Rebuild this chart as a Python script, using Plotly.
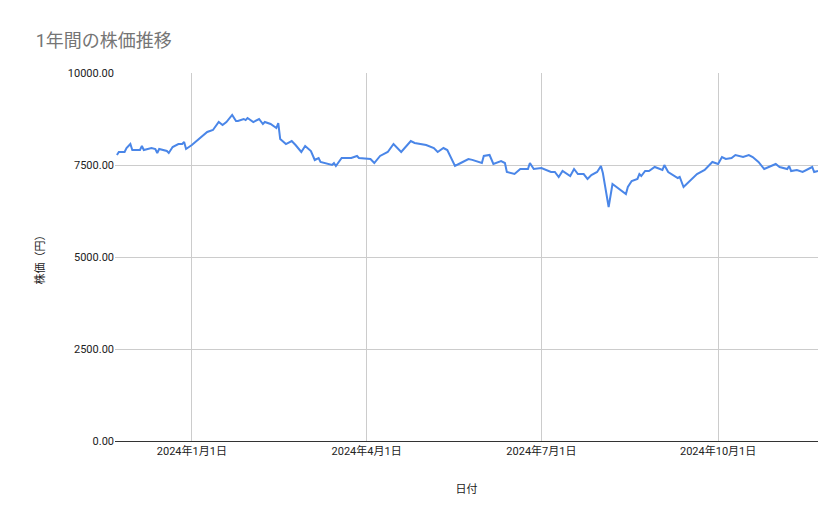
import plotly.graph_objects as go

dates = ["2023-11-23","2023-11-24","2023-11-27","2023-11-28","2023-11-30","2023-12-01","2023-12-05","2023-12-06","2023-12-07","2023-12-11","2023-12-13","2023-12-14","2023-12-15","2023-12-19","2023-12-20","2023-12-22","2023-12-25","2023-12-27","2023-12-28","2023-12-29",
"2024-01-01","2024-01-09","2024-01-12","2024-01-15","2024-01-17","2024-01-19","2024-01-22","2024-01-24","2024-01-25","2024-01-28","2024-01-29","2024-01-30","2024-02-02","2024-02-05","2024-02-07","2024-02-08","2024-02-11","2024-02-14","2024-02-15","2024-02-16","2024-02-19","2024-02-22","2024-02-24","2024-02-27","2024-02-29",
"2024-03-03","2024-03-05","2024-03-07","2024-03-08","2024-03-14","2024-03-15","2024-03-16","2024-03-19","2024-03-24","2024-03-27","2024-03-28","2024-04-03","2024-04-05","2024-04-08","2024-04-12","2024-04-15","2024-04-17","2024-04-19","2024-04-24","2024-04-26",
"2024-05-02","2024-05-06","2024-05-08","2024-05-11","2024-05-13","2024-05-17","2024-05-20","2024-05-24","2024-05-26","2024-05-29","2024-05-31","2024-06-01","2024-06-04","2024-06-06","2024-06-10","2024-06-12","2024-06-13","2024-06-17","2024-06-20","2024-06-24","2024-06-25","2024-06-27",
"2024-07-01","2024-07-06","2024-07-08","2024-07-10","2024-07-12","2024-07-16","2024-07-18","2024-07-20","2024-07-23","2024-07-25","2024-07-27","2024-07-30","2024-08-01","2024-08-02","2024-08-05","2024-08-07","2024-08-14","2024-08-15","2024-08-17","2024-08-20","2024-08-21","2024-08-22","2024-08-24","2024-08-26","2024-08-29",
"2024-09-02","2024-09-03","2024-09-05","2024-09-10","2024-09-11","2024-09-12","2024-09-13","2024-09-20","2024-09-24","2024-09-28","2024-10-01","2024-10-03","2024-10-05","2024-10-08","2024-10-10","2024-10-14","2024-10-17","2024-10-19","2024-10-22","2024-10-25","2024-10-31",
"2024-11-02","2024-11-06","2024-11-07","2024-11-08","2024-11-11","2024-11-14","2024-11-19","2024-11-20","2024-11-22"]
prices = [7772,7853,7853,7960,8070,7908,7908,8016,7908,7962,7935,7826,7935,7880,7826,7989,8070,8070,8125,7935,
8043,8397,8451,8668,8587,8668,8859,8695,8695,8750,8720,8777,8668,8750,8614,8668,8614,8505,8641,8207,8070,8152,8043,7853,8016,
7880,7636,7690,7582,7500,7554,7473,7690,7690,7745,7690,7663,7554,7745,7853,8070,7962,7853,8152,8100,
8043,7962,7853,7962,7908,7473,7554,7663,7640,7582,7554,7745,7772,7527,7609,7554,7310,7255,7391,7391,7554,7391,
7418,7310,7310,7174,7337,7201,7391,7255,7255,7120,7228,7310,7473,7283,6359,6984,6712,6902,7065,7120,7255,7200,7337,7337,7446,
7364,7500,7310,7147,7174,7038,6902,7255,7364,7582,7527,7717,7663,7690,7772,7717,7772,7717,7582,7391,7527,
7446,7391,7473,7337,7364,7310,7446,7310,7337]

tick_vals = ["2024-01-01","2024-04-01","2024-07-01","2024-10-01"]
tick_text = ["2024年1月1日","2024年4月1日","2024年7月1日","2024年10月1日"]
y_ticks = [0,2500,5000,7500,10000]

fig = go.Figure(go.Scatter(x=dates, y=prices, mode="lines",
    line=dict(color="#4a86e8", width=2)))
fig.update_layout(
    width=839, height=519, paper_bgcolor="white", plot_bgcolor="white",
    font=dict(family="Roboto, Noto Sans CJK JP", color="#222"),
    title=dict(text="1年間の株価推移", x=0.033, y=0.95, xanchor="left",
               font=dict(size=18, color="#757575")),
    margin=dict(l=107, r=29, t=65, b=86),
    showlegend=False,
    xaxis=dict(range=["2023-11-22","2024-11-22"], tickvals=tick_vals, ticktext=tick_text,
               showgrid=True, gridcolor="#cccccc", ticks="", tickfont=dict(size=11),
               showline=True, linecolor="#333", linewidth=1,
               title=dict(text="日付", font=dict(size=11), standoff=28)),
    yaxis=dict(range=[0,10000], tickvals=y_ticks, tickformat=".2f", ticks="",
               showgrid=True, gridcolor="#cccccc", zeroline=False, tickfont=dict(size=11),
               title=dict(text="株価（円）", font=dict(size=11), standoff=20)),
)
fig.write_html("out.html")
